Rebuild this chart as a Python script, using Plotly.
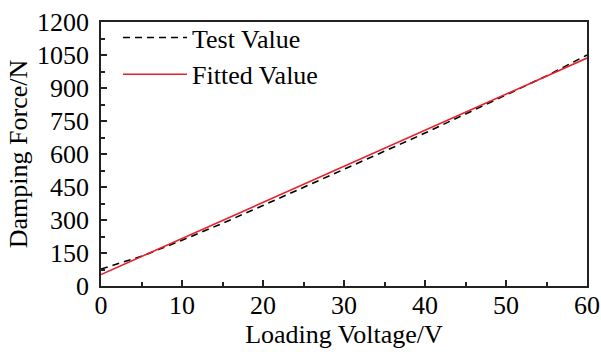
import plotly.graph_objects as go

voltage = [0, 5, 10, 15, 20, 25, 30, 35, 40, 45, 50, 55, 60]
test_value = [77, 135, 208, 285, 366, 448, 530, 612, 695, 782, 868, 955, 1050]
fitted_value = [52, 134, 216, 298, 380, 462, 544, 626, 708, 790, 872, 954, 1036]

x_ticks = [0, 10, 20, 30, 40, 50, 60]
y_ticks = [0, 150, 300, 450, 600, 750, 900, 1050, 1200]

FONT = "Liberation Serif, Times New Roman, serif"

fig = go.Figure()
fig.add_trace(go.Scatter(x=voltage, y=test_value, mode="lines", name="Test Value",
                         line=dict(color="black", width=1.6, dash="7px,5px")))
fig.add_trace(go.Scatter(x=voltage, y=fitted_value, mode="lines", name="Fitted Value",
                         line=dict(color="#e8202a", width=1.6)))

axis_common = dict(showline=True, linecolor="#222", linewidth=1.5, mirror=True,
                   ticks="inside", ticklen=6, tickwidth=1.5, tickcolor="#222",
                   showgrid=False, zeroline=False, automargin=False,
                   tickfont=dict(family=FONT, size=26, color="black"),
                   minor=dict(ticks="inside", ticklen=4, tickwidth=1.5, tickcolor="#222"))

fig.update_xaxes(range=[0, 60], tickvals=x_ticks, ticktext=[str(v) for v in x_ticks],
                 minor_dtick=5, minor_tick0=0, ticklabelstandoff=-5,
                 title=dict(text="Loading Voltage/V", font=dict(family=FONT, size=26, color="black"), standoff=5),
                 **axis_common)
fig.update_yaxes(range=[0, 1200], tickvals=y_ticks, ticktext=[str(v) for v in y_ticks],
                 minor_dtick=75, minor_tick0=0, ticklabelstandoff=5,
                 title=dict(text="Damping Force/N", font=dict(family=FONT, size=26, color="black"), standoff=2),
                 **axis_common)

fig.update_layout(
    width=601, height=354,
    margin=dict(l=101, r=14, t=22, b=68),
    plot_bgcolor="white", paper_bgcolor="white",
    legend=dict(x=0.035, y=1.03, xanchor="left", yanchor="top",
                font=dict(family=FONT, size=26, color="black"),
                bgcolor="rgba(0,0,0,0)", itemwidth=64, tracegroupgap=0),
)

fig.write_html("out.html")
